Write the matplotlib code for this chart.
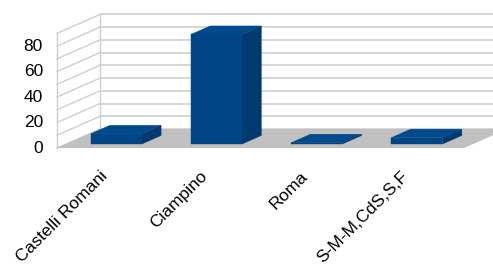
import matplotlib
matplotlib.use('Agg')
import matplotlib.pyplot as plt
import numpy as np

categories = ['Castelli Romani', 'Ciampino', 'Roma', 'S-M-M,CdS,S,F']
values = [8, 86, 1, 5]
y_ticks = [0, 20, 40, 60, 80]
y_max = 90
grid_step = 10

plt.rcParams['font.family'] = ['Liberation Sans', 'DejaVu Sans']

# oblique "3D" look: depth 1.0 shifts by DX categories and DY value units
DX = 0.429
DY = 14.9
bar_w = 0.51
bar_d0, bar_d1 = 0.21, 0.66

front_col = '#004586'
top_col = '#004a8c'
side_col = '#003a6e'
grid_col = '#cfcfcf'
floor_col = '#c0c0c0'


def pt(x, y, d):
    return x + d * DX, y + d * DY


fig = plt.figure(figsize=(4.93, 2.64), dpi=100)
ax = fig.add_axes([0, 0, 1, 1])
ax.set_xlim(-1.0686, 3.849)
ax.set_ylim(-91.05, 116.2)
ax.axis('off')

n = len(categories)
x_left, x_right = -0.5, n - 0.5

# back wall grid
for v in np.arange(0, y_max + grid_step, grid_step):
    xa, ya = pt(x_left, v, 1)
    ax.plot([xa, 5], [ya, ya], color=grid_col, lw=1.2, zorder=1)
# side wall grid
for v in np.arange(0, y_max + grid_step, grid_step):
    xa, ya = pt(x_left, v, 0)
    xb, yb = pt(x_left, v, 1)
    ax.plot([xa, xb], [ya, yb], color=grid_col, lw=1.0, zorder=1)
for d in (0, 1):
    xa, ya = pt(x_left, 0, d)
    xb, yb = pt(x_left, y_max, d)
    ax.plot([xa, xb], [ya, yb], color=grid_col, lw=1.0, zorder=1)

# floor
fx = [pt(x_left, 0, 0)[0], pt(x_right + 0.06, 0, 0)[0], pt(x_right + 0.06, 0, 1)[0], pt(x_left, 0, 1)[0]]
fy = [pt(x_left, 0, 0)[1], pt(x_right + 0.06, 0, 0)[1], pt(x_right + 0.06, 0, 1)[1], pt(x_left, 0, 1)[1]]
ax.fill(fx, fy, color=floor_col, lw=0, zorder=2)

# bars
for i, v in enumerate(values):
    x0 = i - bar_w / 2
    x1 = i + bar_w / 2
    f = [pt(x0, 0, bar_d0), pt(x1, 0, bar_d0), pt(x1, v, bar_d0), pt(x0, v, bar_d0)]
    t = [pt(x0, v, bar_d0), pt(x1, v, bar_d0), pt(x1, v, bar_d1), pt(x0, v, bar_d1)]
    s = [pt(x1, 0, bar_d0), pt(x1, 0, bar_d1), pt(x1, v, bar_d1), pt(x1, v, bar_d0)]
    for poly, c in ((s, side_col), (t, top_col), (f, front_col)):
        ax.fill([p[0] for p in poly], [p[1] for p in poly], color=c, lw=0.3, ec=c, zorder=3)

# y labels
for v in y_ticks:
    ax.text(x_left - 0.14, v, str(v), ha='right', va='center', fontsize=12.5, color='black')

# category labels
for i, c in enumerate(categories):
    ax.text(i + 0.03, -16.0, c, rotation=45, ha='right', va='top', fontsize=12.5, color='black')

fig.savefig('out.png', dpi=100)
